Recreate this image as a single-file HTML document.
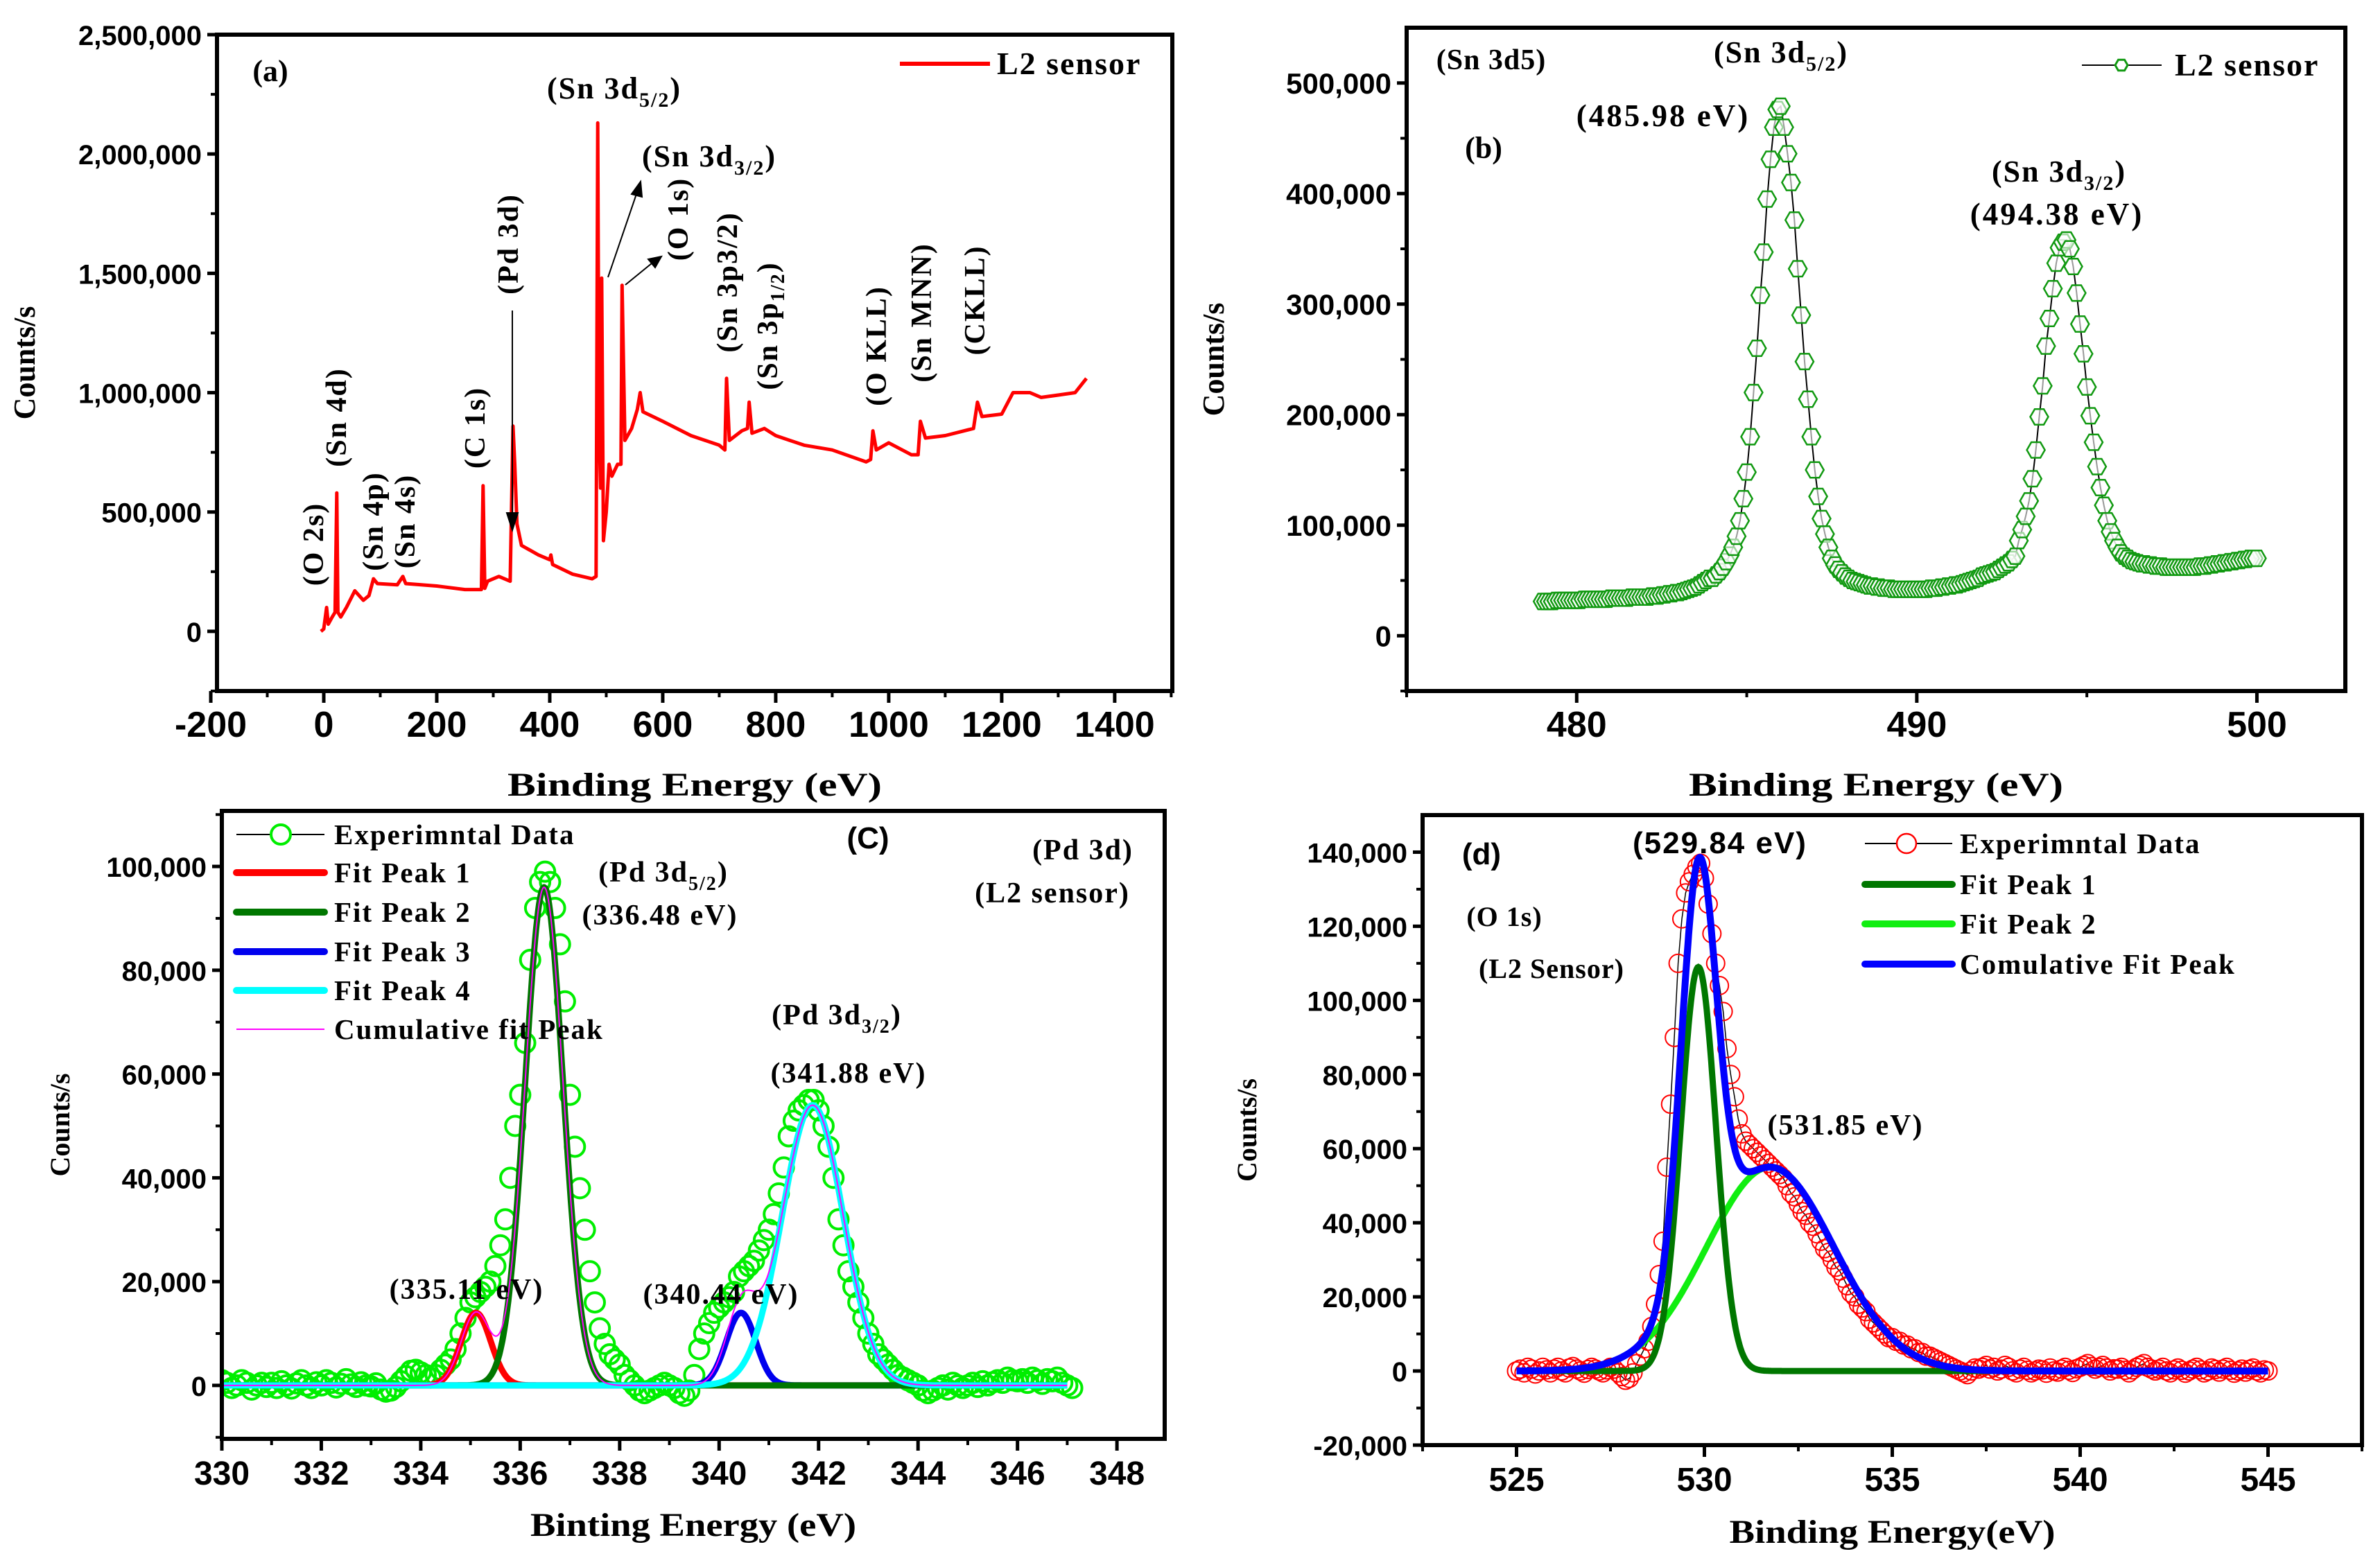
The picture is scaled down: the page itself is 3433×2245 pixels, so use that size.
<!DOCTYPE html>
<html><head><meta charset="utf-8"><title>XPS spectra – L2 sensor</title>
<style>
html,body{margin:0;padding:0;background:#fff;}
svg{display:block;}
.tk{font-family:"Liberation Sans",Arial,sans-serif;font-weight:bold;}
.tt{font-family:"Liberation Serif","Times New Roman",serif;font-weight:bold;fill:#000;}
</style></head>
<body>
<svg id="fig" xmlns="http://www.w3.org/2000/svg" width="3433" height="2245" viewBox="0 0 3433 2245">
<rect x="0" y="0" width="3433" height="2245" fill="#fff"/>
<g id="layer"></g>
<!-- static annotations -->
<g class="tt">
  <text x="390" y="117" font-size="44" text-anchor="middle">(a)</text>
  <text x="886" y="142" font-size="44" text-anchor="middle" letter-spacing="2">(Sn 3d<tspan font-size="30" dy="12">5/2</tspan><tspan dy="-12">)</tspan></text>
  <text x="1023" y="240" font-size="44" text-anchor="middle" letter-spacing="2">(Sn 3d<tspan font-size="30" dy="12">3/2</tspan><tspan dy="-12">)</tspan></text>
  <text transform="translate(466,785) rotate(-90)" font-size="42" text-anchor="middle" letter-spacing="2">(O 2s)</text>
  <text transform="translate(499,602) rotate(-90)" font-size="42" text-anchor="middle" letter-spacing="2">(Sn 4d)</text>
  <text transform="translate(552,752) rotate(-90)" font-size="42" text-anchor="middle" letter-spacing="2">(Sn 4p)</text>
  <text transform="translate(598,752) rotate(-90)" font-size="42" text-anchor="middle" letter-spacing="2">(Sn 4s)</text>
  <text transform="translate(699,617) rotate(-90)" font-size="42" text-anchor="middle" letter-spacing="2">(C 1s)</text>
  <text transform="translate(747,352) rotate(-90)" font-size="42" text-anchor="middle" letter-spacing="2">(Pd 3d)</text>
  <text transform="translate(992,316) rotate(-90)" font-size="42" text-anchor="middle" letter-spacing="2">(O 1s)</text>
  <text transform="translate(1063,407) rotate(-90)" font-size="42" text-anchor="middle" letter-spacing="2">(Sn 3p3/2)</text>
  <text transform="translate(1121,470) rotate(-90)" font-size="42" text-anchor="middle" letter-spacing="2">(Sn 3p<tspan font-size="28" dy="10">1/2</tspan><tspan dy="-10">)</tspan></text>
  <text transform="translate(1278,499) rotate(-90)" font-size="42" text-anchor="middle" letter-spacing="2">(O KLL)</text>
  <text transform="translate(1343,451) rotate(-90)" font-size="42" text-anchor="middle" letter-spacing="2">(Sn MNN)</text>
  <text transform="translate(1420,433) rotate(-90)" font-size="42" text-anchor="middle" letter-spacing="2">(CKLL)</text>
  <g stroke="#000" stroke-width="2" fill="#000">
    <line x1="739" y1="448" x2="739" y2="745"/>
    <polygon points="731,740 747,740 739,765"/>
    <line x1="877" y1="400" x2="918" y2="280"/>
    <polygon points="911,280 926,284 924,262"/>
    <line x1="902" y1="411" x2="940" y2="380"/>
    <polygon points="935,374 945,386 954,370"/>
  </g>
  <line x1="1298" y1="92" x2="1428" y2="92" stroke="#ff0000" stroke-width="6"/>
  <text x="1438" y="107" font-size="46" letter-spacing="2">L2 sensor</text>
</g>
<g class="tt">
  <text x="2151" y="100" font-size="42" text-anchor="middle" letter-spacing="1">(Sn 3d5)</text>
  <text x="2569" y="90" font-size="44" text-anchor="middle" letter-spacing="2">(Sn 3d<tspan font-size="30" dy="12">5/2</tspan><tspan dy="-12">)</tspan></text>
  <text x="2399" y="182" font-size="45" text-anchor="middle" letter-spacing="3">(485.98 eV)</text>
  <text x="2140" y="228" font-size="44" text-anchor="middle">(b)</text>
  <text x="2970" y="262" font-size="44" text-anchor="middle" letter-spacing="2">(Sn 3d<tspan font-size="30" dy="12">3/2</tspan><tspan dy="-12">)</tspan></text>
  <text x="2967" y="324" font-size="45" text-anchor="middle" letter-spacing="3">(494.38 eV)</text>
  <line x1="3003" y1="94" x2="3118" y2="94" stroke="#000" stroke-width="2"/>
  <polygon points="3069,94 3064.5,101.8 3055.5,101.8 3051,94 3055.5,86.2 3064.5,86.2" fill="#fff" stroke="#119911" stroke-width="3"/>
  <text x="3137" y="109" font-size="46" letter-spacing="2">L2 sensor</text>
</g>
<g class="tt">
  <line x1="341" y1="1204" x2="468" y2="1204" stroke="#000" stroke-width="2"/>
  <circle cx="405" cy="1204" r="14" fill="#fff" stroke="#00ee00" stroke-width="4"/>
  <text x="482" y="1218" font-size="41" letter-spacing="2">Experimntal Data</text>
  <line x1="341" y1="1259" x2="468" y2="1259" stroke="#ff0000" stroke-width="10" stroke-linecap="round"/>
  <text x="482" y="1273" font-size="41" letter-spacing="2">Fit Peak 1</text>
  <line x1="341" y1="1316" x2="468" y2="1316" stroke="#007700" stroke-width="10" stroke-linecap="round"/>
  <text x="482" y="1330" font-size="41" letter-spacing="2">Fit Peak 2</text>
  <line x1="341" y1="1373" x2="468" y2="1373" stroke="#0000ee" stroke-width="10" stroke-linecap="round"/>
  <text x="482" y="1387" font-size="41" letter-spacing="2">Fit Peak 3</text>
  <line x1="341" y1="1429" x2="468" y2="1429" stroke="#00ffff" stroke-width="10" stroke-linecap="round"/>
  <text x="482" y="1443" font-size="41" letter-spacing="2">Fit Peak 4</text>
  <line x1="341" y1="1485" x2="468" y2="1485" stroke="#ff00ff" stroke-width="2"/>
  <text x="482" y="1499" font-size="41" letter-spacing="2">Cumulative fit Peak</text>
  <text x="1252" y="1224" font-size="44" text-anchor="middle" font-family="Liberation Sans,sans-serif">(C)</text>
  <text x="1562" y="1240" font-size="42" text-anchor="middle" letter-spacing="2">(Pd 3d)</text>
  <text x="1518" y="1302" font-size="42" text-anchor="middle" letter-spacing="2">(L2 sensor)</text>
  <text x="957" y="1272" font-size="42" text-anchor="middle" letter-spacing="2">(Pd 3d<tspan font-size="28" dy="12">5/2</tspan><tspan dy="-12">)</tspan></text>
  <text x="952" y="1334" font-size="42" text-anchor="middle" letter-spacing="2">(336.48 eV)</text>
  <text x="1207" y="1478" font-size="42" text-anchor="middle" letter-spacing="2">(Pd 3d<tspan font-size="28" dy="12">3/2</tspan><tspan dy="-12">)</tspan></text>
  <text x="1224" y="1562" font-size="42" text-anchor="middle" letter-spacing="2">(341.88 eV)</text>
  <text x="673" y="1874" font-size="42" text-anchor="middle" letter-spacing="2">(335.11 eV)</text>
  <text x="1040" y="1881" font-size="42" text-anchor="middle" letter-spacing="2">(340.44 eV)</text>
</g>
<g class="tt">
  <text x="2137" y="1247" font-size="44" text-anchor="middle" font-family="Liberation Sans,sans-serif">(d)</text>
  <text x="2481" y="1231" font-size="44" text-anchor="middle" letter-spacing="2" font-family="Liberation Sans,sans-serif">(529.84 eV)</text>
  <text x="2170" y="1336" font-size="40" text-anchor="middle" letter-spacing="1">(O 1s)</text>
  <text x="2238" y="1411" font-size="40" text-anchor="middle" letter-spacing="1">(L2 Sensor)</text>
  <text x="2662" y="1637" font-size="42" text-anchor="middle" letter-spacing="2">(531.85 eV)</text>
  <line x1="2690" y1="1217" x2="2816" y2="1217" stroke="#000" stroke-width="2"/>
  <circle cx="2750" cy="1217" r="14" fill="#fff" stroke="#ff0000" stroke-width="2.5"/>
  <text x="2827" y="1231" font-size="41" letter-spacing="2">Experimntal Data</text>
  <line x1="2690" y1="1276" x2="2816" y2="1276" stroke="#007700" stroke-width="10" stroke-linecap="round"/>
  <text x="2827" y="1290" font-size="41" letter-spacing="2">Fit Peak 1</text>
  <line x1="2690" y1="1333" x2="2816" y2="1333" stroke="#11ee11" stroke-width="10" stroke-linecap="round"/>
  <text x="2827" y="1347" font-size="41" letter-spacing="2">Fit Peak 2</text>
  <line x1="2690" y1="1391" x2="2816" y2="1391" stroke="#0000ff" stroke-width="10" stroke-linecap="round"/>
  <text x="2827" y="1405" font-size="41" letter-spacing="2">Comulative Fit Peak</text>
</g>
</svg>
<script>
// ---------- Panel (a) survey data ----------
const surveyEnergy = [-5,0,5,8,15,20,23,25,30,40,55,70,80,88,95,130,140,145,200,250,279,282,285,290,300,310,330,335,338,342,350,380,400,402,405,440,475,482,485,487,490,492,495,500,505,510,520,526,528,533,545,555,560,565,600,650,700,710,713,718,740,750,753,758,780,800,850,900,960,968,972,978,1000,1040,1052,1056,1065,1100,1150,1157,1165,1200,1220,1250,1270,1300,1330,1350];
const surveyCounts = [0,10,100,30,60,80,580,80,60,100,170,130,150,220,200,195,230,200,190,175,175,610,180,210,220,230,210,860,700,450,360,320,300,320,280,240,220,230,2130,900,600,1480,380,500,700,650,700,700,1450,800,850,930,1000,920,880,820,780,760,1060,800,840,850,960,830,850,820,780,760,710,720,840,760,790,740,740,880,810,820,850,960,900,910,1000,1000,980,990,1000,1060]; // thousands
const surveyXTicks = [-200,0,200,400,600,800,1000,1200,1400];
const surveyYTicks = [0,500000,1000000,1500000,2000000,2500000];

// ---------- Panel (b) Sn 3d data (0.1 eV steps from 479.0) ----------
const sn3dStart = 479.0;
const sn3dStep = 0.1;
const sn3dCounts = [
31,31,31,31,32,32,32,32,32,32, 32,32,33,33,33,33,33,33,33,33, 34,34,34,34,34,34,35,35,35,35,
35,35,36,36,36,37,37,38,38,39, 39,40,41,42,43,44,46,48,50,52,
52,55,58,62,67,73,80,90,104,124,
148,180,220,260,308,347,395,431,460,476,
479,460,436,410,376,332,290,248,214,180,
150,126,106,92,80,70,64,60,57,54,
52,50,49,48,47,46,45,45,44,44,
43,43,43,42,42,42,42,42,42,42,
42,42,42,42,43,43,43,44,44,45,
45,46,46,47,48,49,50,51,52,54,
55,56,57,58,60,62,64,66,69,72,
86,96,108,122,142,168,198,226,262,287,
314,337,351,356,358,350,334,310,282,255,
225,199,175,153,134,118,104,94,86,80,
75,72,70,68,67,66,65,65,64,64,
63,63,63,62,62,62,62,62,62,62,
62,62,62,63,63,63,64,64,65,65,
66,66,67,67,68,68,69,69,70,70,70]; // thousands
const sn3dXTicks = [480,490,500];
const sn3dYTicks = [0,100000,200000,300000,400000,500000];

// ---------- Panel (c) Pd 3d data (0.1 eV steps from 330.0) ----------
const pdStart = 330.0;
const pdStep = 0.1;
const pdCounts = [
1,0.5,-0.5,0,1,0.5,-0.8,0,0.5,-0.3,
0.5,-0.5,0.8,0,-0.6,0.4,1,0,-0.5,0.6,
0,1,0.5,-0.4,0.3,1.2,0.2,-0.3,0.6,0,
-0.2,0.4,-0.8,-1.2,-1,-0.3,0.8,1.8,2.8,3,
2.5,2,1.5,2,3,4,5,7,10,13,
16,17,18,19,20,23,27,32,40,50,
56,66,82,92,97,99,97,92,85,74,
56,46,38,30,22,16,11,8,6,5,
4,2,1,0,-1,-1.5,-1,-0.5,0,0.5,
0,-0.5,-1.5,-2,-1,2,7,10,12,14,
15,16,17,18,21,22,23,24,26,28,
30,33,37,42,48,51,53,54,55,55,
53,50,46,40,32,27,22,19,16,13,
10,8,6,5,4,3,2,1.5,1,0.5,
0,-1,-1.5,-1,-0.5,0,-0.8,0.5,0,-0.5,
0,0.5,-0.3,0.8,0,0.6,1,0.5,1.5,1,
0.8,1.2,0.5,1.5,1,0.3,1.2,0.8,1.5,0.5,
0,-0.5]; // thousands
const pdFitCenters = [335.11,336.48,340.44,341.88];
const pdFitHeights = [14,96,14,54];
const pdFitWidths = [0.7,0.9,0.7,1.45];
const pdXTicks = [330,332,334,336,338,340,342,344,346,348];
const pdYTicks = [0,20000,40000,60000,80000,100000];

// ---------- Panel (d) O 1s data (0.1 eV steps from 525.0) ----------
const oStart = 525.0;
const oStep = 0.1;
const oCounts = [
0,0.5,-0.5,1,0.5,-0.8,0,1,0.3,-0.5,
0.5,1,0,-0.5,0.8,1.2,0.5,0,-0.6,0.4,
1,0.5,0,-0.5,0.3,1,0.5,-0.5,-1.5,-2.5,
-2,-0.5,2,4,6,8,12,18,26,35,
55,72,90,110,122,129,132,134,136,137,
133,126,118,110,104,97,87,80,74,68,
64,62,61,60,59,58,57,56,55,54,
53,52,50,48,47,45,43,42,40,39,
37,35,33,32,30,28,27,25,23,21,
20,18,17,16,14,13,12,11,10,9,
9,8,8,7,7,6,6,5,5,4,
4,3.5,3,2.5,2,1.5,1,0.5,0,-0.5,
-1,0,0.8,0.5,1,1.5,0.5,1,0,0.5,
1.5,1,0,-0.5,0.5,1,0.2,-0.5,0,0.5,
0.3,-0.6,0.8,0,-0.3,0.5,1,0.2,-0.4,0.6,
1,1.5,2,1.2,0.5,1,1.5,0.8,0,0.6,
0.5,1,0.2,-0.5,0.3,1,1.5,2,1,0.5,
0,0.5,1,0,-0.5,0.3,0.8,0.2,-0.6,0,
0.5,1,0.3,-0.5,0,0.8,0.4,-0.3,0.5,1,
0.2,-0.6,0,0.5,-0.3,0.4,0.8,0,-0.5,0.3,
0]; // thousands
const oFitCenters = [529.84,531.75];
const oFitHeights = [109,55];
const oFitWidths = [1.1,4.0];
const oXTicks = [525,530,535,540,545];
const oYTicks = [-20000,0,20000,40000,60000,80000,100000,120000,140000];

// ---------- helpers ----------
const NS = "http://www.w3.org/2000/svg";
const layer = document.getElementById('layer');
function mk(tag, attrs, parent){
  const e = document.createElementNS(NS, tag);
  for (const k in attrs) e.setAttribute(k, attrs[k]);
  (parent||layer).appendChild(e);
  return e;
}
function gauss(x, c, h, w){ return h*Math.exp(-4*Math.LN2*((x-c)/w)*((x-c)/w)); }

function panel(cfg){
  const g = mk('g', {});
  
  
  const sx = v => cfg.L + (v-cfg.x0)/(cfg.x1-cfg.x0)*(cfg.R-cfg.L);
  const sy = v => cfg.B - (v-cfg.y0)/(cfg.y1-cfg.y0)*(cfg.B-cfg.T);
  // x ticks
  cfg.xTicks.forEach(t=>{
    const x = sx(t);
    const tk = mk('line',{x1:x,y1:cfg.B,x2:x,y2:cfg.B+17,stroke:'#000','stroke-width':5},g);
    
    
    const lb = mk('text',{x:x,y:cfg.B+66,'font-size':cfg.xfs||50,'text-anchor':'middle',class:'tk'},g);
    
    
    lb.textContent = String(t);
  });
  for (let i=0;i<cfg.xTicks.length-1;i++){
    const m = (cfg.xTicks[i]+cfg.xTicks[i+1])/2;
    const x = sx(m);
    const tk = mk('line',{x1:x,y1:cfg.B,x2:x,y2:cfg.B+9,stroke:'#000','stroke-width':4},g);
    
    
  }
  cfg.xMinorExtra.forEach(m=>{
    const x = sx(m);
    const tk = mk('line',{x1:x,y1:cfg.B,x2:x,y2:cfg.B+9,stroke:'#000','stroke-width':4},g);
    
    
  });
  // y ticks
  cfg.yTicks.forEach(t=>{
    const y = sy(t);
    const tk = mk('line',{x1:cfg.L-14,y1:y,x2:cfg.L,y2:y,stroke:'#000','stroke-width':5},g);
    
    
    const lb = mk('text',{x:cfg.L-22,y:y+15,'font-size':cfg.yfs||40,'text-anchor':'end',class:'tk'},g);
    
    
    lb.textContent = t.toLocaleString('en-US');
  });
  const yst = cfg.yTicks[1]-cfg.yTicks[0];
  for (let v=cfg.yTicks[0]-yst/2; v<cfg.y1; v+=yst){
    if (v < cfg.y0) continue;
    const y = sy(v);
    const tk = mk('line',{x1:cfg.L-9,y1:y,x2:cfg.L,y2:y,stroke:'#000','stroke-width':4},g);
    
    
  }
  // titles
  const xt = mk('text',{x:(cfg.L+cfg.R)/2,y:cfg.xtY,'font-size':48,'text-anchor':'middle',class:'tt',textLength:cfg.xtLen,lengthAdjust:'spacingAndGlyphs'},g);
  
  
  xt.textContent = cfg.xTitle;
  const yt = mk('text',{transform:`translate(${cfg.ytX},${(cfg.T+cfg.B)/2}) rotate(-90)`,'font-size':cfg.ytfs||44,'text-anchor':'middle',class:'tt'},g);
  
  
  yt.textContent = 'Counts/s';
  // clip
  const cid = 'clip-'+cfg.name;
  const cp = mk('clipPath',{id:cid},g);
  mk('rect',{x:cfg.L,y:cfg.T,width:cfg.R-cfg.L,height:cfg.B-cfg.T},cp);
  const plot = mk('g',{'clip-path':`url(#${cid})`},g);
  
  
  cfg.draw(plot, sx, sy);
  // frame
  const fr = mk('rect',{x:cfg.L,y:cfg.T,width:cfg.R-cfg.L,height:cfg.B-cfg.T,fill:'none',stroke:'#000','stroke-width':6},g);
  
  
}
function linePath(xs, ys, sx, sy){
  return xs.map((x,i)=>(i?'L':'M')+sx(x).toFixed(1)+','+sy(ys[i]).toFixed(1)).join('');
}
function seqX(start, step, n){ const a=[]; for(let i=0;i<n;i++) a.push(+(start+i*step).toFixed(3)); return a; }

// ---------- Panel A ----------
panel({name:'panel-a-survey',L:313,R:1691,T:50,B:997,x0:-189,x1:1502,y0:-250000,y1:2500000,
  xTicks:surveyXTicks,yTicks:surveyYTicks,xMinorExtra:[1500],xfs:52,yfs:40,
  xTitle:'Binding Energy (eV)',xtY:1148,xtLen:540,ytX:50,ytfs:44,
  draw:(p,sx,sy)=>{
    const path = mk('path',{d:linePath(surveyEnergy,surveyCounts.map(v=>v*1000),sx,sy),fill:'none',stroke:'#ff0000','stroke-width':5,'stroke-linejoin':'round'},p);
    
    
  }});

// ---------- Panel B ----------
panel({name:'panel-b-sn3d',L:2029,R:3383,T:40,B:997,x0:475,x1:502.6,y0:-50000,y1:550000,
  xTicks:sn3dXTicks,yTicks:sn3dYTicks,xMinorExtra:[475],xfs:52,yfs:42,
  xTitle:'Binding Energy (eV)',xtY:1148,xtLen:540,ytX:1765,ytfs:44,
  draw:(p,sx,sy)=>{
    const xs = seqX(sn3dStart,sn3dStep,sn3dCounts.length);
    const ys = sn3dCounts.map(v=>v*1000);
    const path = mk('path',{d:linePath(xs,ys,sx,sy),fill:'none',stroke:'#000','stroke-width':2},p);
    
    
    xs.forEach((x,i)=>{
      const cx=sx(x), cy=sy(ys[i]), r=13;
      const pts=[];
      for(let k=0;k<6;k++){const a=Math.PI/3*k; pts.push((cx+r*Math.cos(a)).toFixed(1)+','+(cy+r*Math.sin(a)).toFixed(1));}
      const m = mk('polygon',{points:pts.join(' '),fill:'#fff','fill-opacity':0.6,stroke:'#119911','stroke-width':2.5},p);
      
      
    });
  }});

// ---------- Panel C ----------
panel({name:'panel-c-pd3d',L:320,R:1680,T:1170,B:2076,x0:330,x1:348.96,y0:-10300,y1:110700,
  xTicks:pdXTicks,yTicks:pdYTicks,xMinorExtra:[],xfs:48,yfs:40,
  xTitle:'Binting Energy (eV)',xtY:2216,xtLen:470,ytX:100,ytfs:40,
  draw:(p,sx,sy)=>{
    const xs = seqX(pdStart,pdStep,pdCounts.length);
    const ys = pdCounts.map(v=>v*1000);
    xs.forEach((x,i)=>{
      const c = mk('circle',{cx:sx(x),cy:sy(ys[i]),r:14,fill:'none',stroke:'#00ee00','stroke-width':4},p);
      
      
    });
    const fx = seqX(330,0.02,851);
    const cols = ['#ff0000','#007700','#0000ee','#00ffff'];
    const names = ['pd-fit-peak-1','pd-fit-peak-2','pd-fit-peak-3','pd-fit-peak-4'];
    const order = [0,2,1,3];
    order.forEach(k=>{
      const fy = fx.map(x=>gauss(x,pdFitCenters[k],pdFitHeights[k],pdFitWidths[k])*1000);
      const pa = mk('path',{d:linePath(fx,fy,sx,sy),fill:'none',stroke:cols[k],'stroke-width':9,'stroke-linejoin':'round'},p);
      
      
    });
    const cy = fx.map(x=>pdFitCenters.reduce((s,c,k)=>s+gauss(x,c,pdFitHeights[k],pdFitWidths[k]),0)*1000);
    const cp = mk('path',{d:linePath(fx,cy,sx,sy),fill:'none',stroke:'#ff00ff','stroke-width':2},p);
    
    
  }});

// ---------- Panel D ----------
panel({name:'panel-d-o1s',L:2052,R:3407,T:1176,B:2085,x0:522.5,x1:547.5,y0:-20000,y1:150000,
  xTicks:oXTicks,yTicks:oYTicks,xMinorExtra:[522.5,547.5],xfs:48,yfs:40,
  xTitle:'Binding Energy(eV)',xtY:2226,xtLen:470,ytX:1812,ytfs:40,
  draw:(p,sx,sy)=>{
    const xs = seqX(oStart,oStep,oCounts.length);
    const ys = oCounts.map(v=>v*1000);
    const el = mk('path',{d:linePath(xs,ys,sx,sy),fill:'none',stroke:'#000','stroke-width':1.5},p);
    
    
    xs.forEach((x,i)=>{
      const c = mk('circle',{cx:sx(x),cy:sy(ys[i]),r:13,fill:'none',stroke:'#ff0000','stroke-width':2},p);
      
      
    });
    const fx = seqX(525,0.02,1001);
    const f2 = fx.map(x=>gauss(x,oFitCenters[1],oFitHeights[1],oFitWidths[1])*1000);
    const p2 = mk('path',{d:linePath(fx,f2,sx,sy),fill:'none',stroke:'#11ee11','stroke-width':9},p);
    
    
    const f1 = fx.map(x=>gauss(x,oFitCenters[0],oFitHeights[0],oFitWidths[0])*1000);
    const p1 = mk('path',{d:linePath(fx,f1,sx,sy),fill:'none',stroke:'#007700','stroke-width':9},p);
    
    
    const fc = fx.map((x,i)=>f1[i]+f2[i]);
    const pc = mk('path',{d:linePath(fx,fc,sx,sy),fill:'none',stroke:'#0000ff','stroke-width':10,'stroke-linejoin':'round'},p);
    
    
  }});
</script>
</body></html>
